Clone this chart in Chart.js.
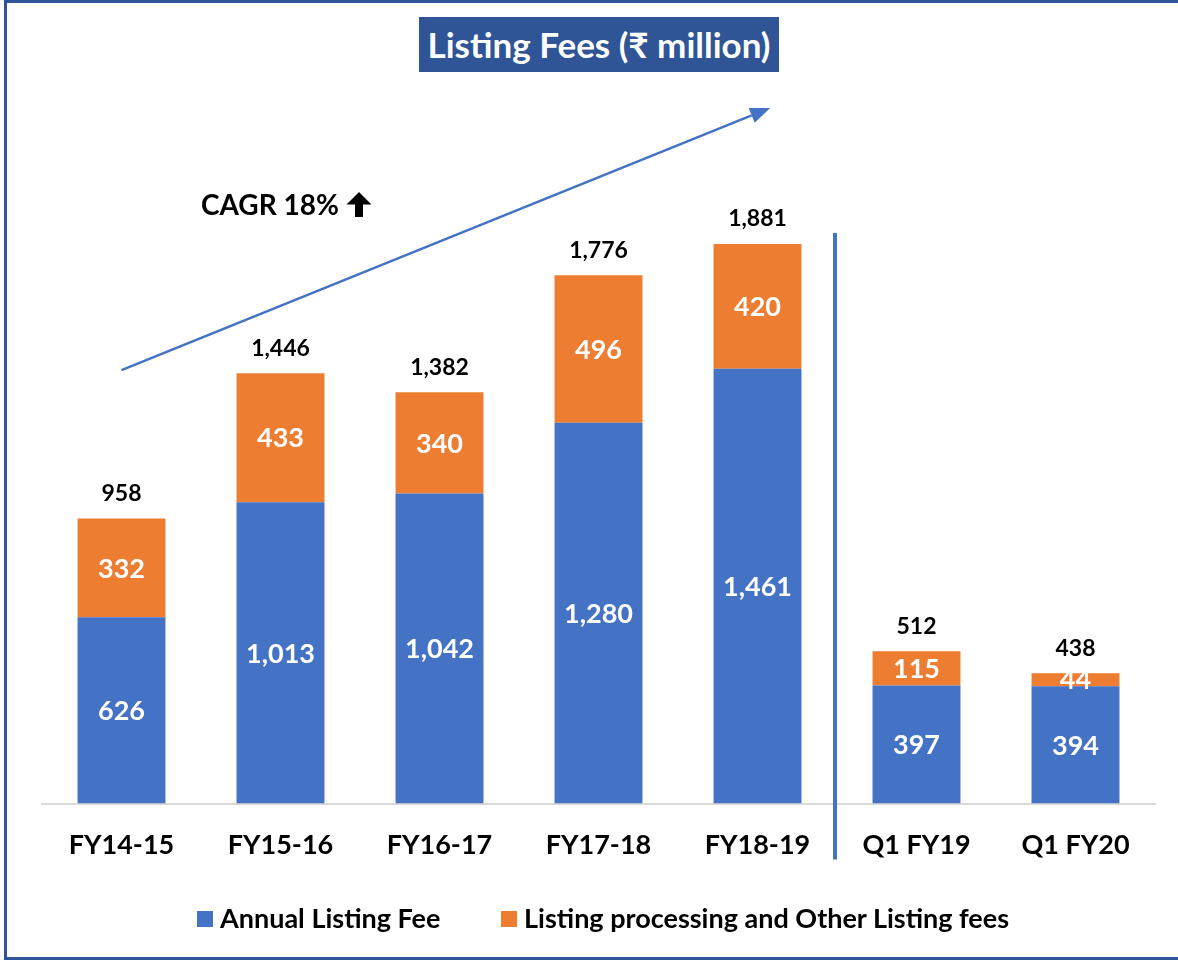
<!DOCTYPE html>
<html>
<head>
<meta charset="utf-8">
<script src="https://cdn.jsdelivr.net/npm/chart.js@4.4.1/dist/chart.umd.min.js"></script>
<style>
  html, body { margin: 0; padding: 0; background: #ffffff; }
  body { width: 1178px; height: 960px; position: relative; overflow: hidden; font-family: Lato, "Noto Sans", sans-serif; }
  #frame { position: absolute; left: 4px; top: 0px; width: 1200px; height: 960px; box-sizing: border-box; border: 3px solid #2F5597; }
  #wrap { position: absolute; left: 0; top: 0; width: 1178px; height: 960px; }
  #title { position: absolute; left: 419px; top: 17px; width: 360px; height: 55px; background: #2F5597; color: #ffffff;
           font: bold 35px Lato, "Noto Sans", sans-serif; line-height: 54px; text-align: center; white-space: nowrap; }
  #cagr { position: absolute; left: 201px; top: 190px; font: bold 28px Lato, "Noto Sans", sans-serif; line-height: 28px; color: #000; white-space: nowrap; }
  #cagr svg { vertical-align: top; margin-left: 7px; margin-top: 1px; }
  #legend { position: absolute; left: 0; top: 904px; width: 1178px; height: 28px; }
  .item { position: absolute; top: 0; height: 28px; font: bold 27px Lato, "Noto Sans", sans-serif; line-height: 28px; color: #000; white-space: nowrap; }
  .sw { position: absolute; top: 7px; width: 16px; height: 16px; }
</style>
</head>
<body>
<div id="wrap"><canvas id="c" width="1178" height="960"></canvas></div>
<div id="frame"></div>
<div id="title">Listing Fees (₹ million)</div>
<div id="cagr">CAGR 18%<svg width="26" height="27" viewBox="0 0 26 27"><polygon points="13,1 25.5,13.5 17,13.5 17,26 9,26 9,13.5 0.5,13.5" fill="#000"/></svg></div>
<div id="legend"></div>
<script>
// ---------- data ----------
const categories = ["FY14-15", "FY15-16", "FY16-17", "FY17-18", "FY18-19", "Q1 FY19", "Q1 FY20"];
const annualListingFee = [626, 1013, 1042, 1280, 1461, 397, 394];
const otherListingFees = [332, 433, 340, 496, 420, 115, 44];
const totals = [958, 1446, 1382, 1776, 1881, 512, 438];
const seriesNames = ["Annual Listing Fee", "Listing processing and Other Listing fees"];
// CAGR arrow, in data space (category index, value)
const cagrArrow = { fromIndex: 0, fromValue: 1457, toIndex: 4.08, toValue: 2338 };
// separator between annual and quarterly figures
const separator = { afterIndex: 4, topValue: 1918 };

const BLUE = "#4472C4", ORANGE = "#ED7D31";
const fmt = v => v.toLocaleString("en-US");

// HTML legend
const legendEl = document.getElementById("legend");
[[seriesNames[0], BLUE, 197], [seriesNames[1], ORANGE, 501]].forEach(([name, col, x]) => {
  const sw = document.createElement("div");
  sw.className = "sw"; sw.style.left = x + "px"; sw.style.background = col;
  legendEl.appendChild(sw);
  const it = document.createElement("div");
  it.className = "item"; it.style.left = (x + 23) + "px"; it.textContent = name;
  legendEl.appendChild(it);
});

const decorPlugin = {
  id: "decor",
  afterDatasetsDraw(chart) {
    const ctx = chart.ctx;
    const xs = chart.scales.x, ys = chart.scales.y;
    ctx.save();
    // segment labels
    ctx.textAlign = "center";
    ctx.textBaseline = "middle";
    ctx.fillStyle = "#ffffff";
    ctx.font = "bold 27px Lato, 'Noto Sans', sans-serif";
    chart.data.datasets.forEach((ds, di) => {
      const meta = chart.getDatasetMeta(di);
      meta.data.forEach((bar, i) => {
        const p = bar.getProps(["x", "y", "base"], true);
        ctx.fillText(fmt(ds.data[i]), p.x, (p.y + p.base) / 2 + 1);
      });
    });
    // totals
    ctx.fillStyle = "#000000";
    ctx.font = "bold 23px Lato, 'Noto Sans', sans-serif";
    totals.forEach((t, i) => {
      ctx.fillText(fmt(t), xs.getPixelForValue(i), ys.getPixelForValue(t) - 25);
    });
    // separator line
    const sx = (xs.getPixelForValue(separator.afterIndex) + xs.getPixelForValue(separator.afterIndex + 1)) / 2 - 2;
    ctx.strokeStyle = BLUE;
    ctx.lineWidth = 4;
    ctx.beginPath();
    ctx.moveTo(sx, ys.getPixelForValue(separator.topValue));
    ctx.lineTo(sx, chart.chartArea.bottom + 56);
    ctx.stroke();
    // CAGR arrow
    const x1 = xs.getPixelForValue(cagrArrow.fromIndex), y1 = ys.getPixelForValue(cagrArrow.fromValue);
    const x2 = xs.getPixelForValue(cagrArrow.toIndex), y2 = ys.getPixelForValue(cagrArrow.toValue);
    const ang = Math.atan2(y2 - y1, x2 - x1);
    const hl = 20, hw = 8;
    const bx = x2 - hl * Math.cos(ang), by = y2 - hl * Math.sin(ang);
    ctx.strokeStyle = BLUE;
    ctx.lineWidth = 2.5;
    ctx.beginPath();
    ctx.moveTo(x1, y1);
    ctx.lineTo(bx, by);
    ctx.stroke();
    ctx.fillStyle = BLUE;
    ctx.beginPath();
    ctx.moveTo(x2, y2);
    ctx.lineTo(bx + hw * Math.sin(ang), by - hw * Math.cos(ang));
    ctx.lineTo(bx - hw * Math.sin(ang), by + hw * Math.cos(ang));
    ctx.closePath();
    ctx.fill();
    ctx.restore();
  }
};

new Chart(document.getElementById("c"), {
  type: "bar",
  data: {
    labels: categories,
    datasets: [
      { label: seriesNames[0], data: annualListingFee, backgroundColor: BLUE, borderWidth: 0 },
      { label: seriesNames[1], data: otherListingFees, backgroundColor: ORANGE, borderWidth: 0 }
    ]
  },
  options: {
    responsive: false,
    animation: false,
    events: [],
    layout: { padding: { top: 30, left: 42, right: 23, bottom: 60 } },
    datasets: { bar: { categoryPercentage: 1, barPercentage: 0.553 } },
    plugins: { legend: { display: false }, tooltip: { enabled: false }, title: { display: false } },
    scales: {
      x: {
        stacked: true,
        grid: { display: false, drawTicks: false },
        border: { display: true, color: "#D9D9D9", width: 2 },
        ticks: { color: "#000000", padding: 26, font: { family: "Lato, 'Noto Sans', sans-serif", size: 27, weight: "bold" } },
        afterFit(scale) { scale.height = 96.5; }
      },
      y: {
        stacked: true,
        display: false,
        min: 0,
        max: 2600
      }
    }
  },
  plugins: [decorPlugin]
});
</script>
</body>
</html>
